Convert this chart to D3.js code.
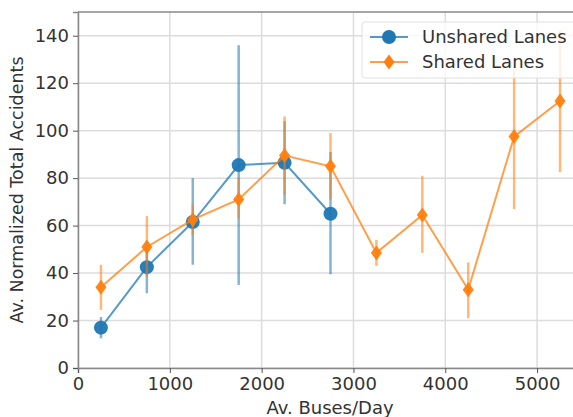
<!DOCTYPE html>
<html>
<head>
<meta charset="utf-8">
<script src="https://cdn.jsdelivr.net/npm/d3@7"></script>
<style>
    body { margin: 0; background: #fff; }
    svg { display: block; font-family: "DejaVu Sans", sans-serif; }
</style>
</head>
<body>
<svg id="chart" width="573" height="417"></svg>
<script>
// bus volume bins (x)
var buses_unshared = [250, 750, 1250, 1750, 2250, 2750];
var buses_shared = [250, 750, 1250, 1750, 2250, 2750, 3250, 3750, 4250, 4750, 5250];

// mean accidents and error bar ends
var unshared_mean = [17, 42.5, 61.5, 85.5, 86.5, 65];
var unshared_low = [12.5, 31.5, 43.5, 35, 69, 39.5];
var unshared_high = [21.5, 53, 80, 136, 104, 91];

var shared_mean = [34, 51, 62.5, 71, 89.5, 85, 48.5, 64.5, 33, 97.5, 112.5];
var shared_low = [24.5, 38.5, 56, 63, 73, 71, 43, 48.5, 21, 67, 82.5];
var shared_high = [43.5, 64, 69, 80, 106, 99, 54, 81, 44.5, 127, 142.5];

var x_ticks = [0, 1000, 2000, 3000, 4000, 5000];
var y_ticks = [0, 20, 40, 60, 80, 100, 120, 140];

const BLUE = '#1f77b4';
const ORANGE = '#ff7f0e';

var svg = d3.select("#chart");

var p_left = 78, p_right = 583, p_top = 12, p_bottom = 368;

var x = d3.scaleLinear().domain([0, 5500]).range([p_left, p_right]);
var y = d3.scaleLinear().domain([0, 150]).range([p_bottom, p_top]);

// grid
svg.append("g").selectAll("line")
    .data(x_ticks)
    .enter()
    .append("line")
    .attr("x1", d => x(d)).attr("x2", d => x(d))
    .attr("y1", p_top).attr("y2", p_bottom)
    .style("stroke", "#dcdcdc")
    .style("stroke-width", 1.5)
svg.append("g").selectAll("line")
    .data(y_ticks)
    .enter()
    .append("line")
    .attr("x1", p_left).attr("x2", p_right)
    .attr("y1", d => y(d)).attr("y2", d => y(d))
    .style("stroke", "#dcdcdc")
    .style("stroke-width", 1.5)

// axes
svg.append("g")
    .attr("transform", "translate(0," + p_bottom + ")")
    .call(d3.axisBottom(x).tickValues(x_ticks).tickSize(5).tickPadding(4).tickFormat(d3.format("d")))
svg.append("g")
    .attr("transform", "translate(" + p_left + ",0)")
    .call(d3.axisLeft(y).tickValues(y_ticks).tickSize(5).tickPadding(4).tickFormat(d3.format("d")))

svg.selectAll(".tick text")
    .style("font-size", "18px")
    .style("fill", "#333")
    .style("font-family", "DejaVu Sans")
svg.selectAll(".tick line").style("stroke", "#555")
svg.selectAll(".domain").style("stroke", "#888").style("stroke-width", 1.5)

// top spine
svg.append("line")
    .attr("x1", p_left).attr("x2", p_right)
    .attr("y1", p_top).attr("y2", p_top)
    .style("stroke", "#888")
    .style("stroke-width", 1.5)

svg.append("text")
    .attr("x", 330)
    .attr("y", 414)
    .attr("text-anchor", "middle")
    .style("font-size", "18px")
    .style("fill", "#333")
    .text("Av. Buses/Day")

svg.append("text")
    .attr("transform", "translate(23," + (p_top + p_bottom) / 2 + ") rotate(-90)")
    .attr("text-anchor", "middle")
    .style("font-size", "17.5px")
    .style("fill", "#333")
    .text("Av. Normalized Total Accidents")

function drawSeries(xs, mean, low, high, color, shape) {
    var g = svg.append("g");
    var pts = xs.map(function (d, i) { return [d, mean[i], low[i], high[i]]; });

    g.selectAll("line.err")
        .data(pts)
        .enter()
        .append("line")
        .attr("class", "err")
        .attr("x1", d => x(d[0])).attr("x2", d => x(d[0]))
        .attr("y1", d => y(d[2])).attr("y2", d => y(d[3]))
        .style("stroke", color)
        .style("stroke-width", 2.5)
        .style("opacity", 0.55)

    var line = d3.line().x(d => x(d[0])).y(d => y(d[1]));
    g.append("path")
        .datum(pts)
        .attr("d", line)
        .style("fill", "none")
        .style("stroke", color)
        .style("stroke-width", 2)
        .style("opacity", 0.75)

    g.selectAll("path.mk")
        .data(pts)
        .enter()
        .append("path")
        .attr("class", "mk")
        .attr("d", shape)
        .attr("transform", d => "translate(" + x(d[0]) + "," + y(d[1]) + ")")
        .style("fill", color)
        .style("opacity", 0.95)
}

var circle = "M-7,0a7,7 0 1,0 14,0a7,7 0 1,0 -14,0Z";
var diamond = "M0,-7.5L5.5,0L0,7.5L-5.5,0Z";

drawSeries(buses_unshared, unshared_mean, unshared_low, unshared_high, BLUE, circle);
drawSeries(buses_shared, shared_mean, shared_low, shared_high, ORANGE, diamond);

// legend
var legend = svg.append("g");
legend.append("rect")
    .attr("x", 362).attr("y", 22)
    .attr("width", 230).attr("height", 56)
    .attr("rx", 3)
    .style("fill", "#fff")
    .style("fill-opacity", 0.8)
    .style("stroke", "#e0e0e0")

var keys = ["Unshared Lanes", "Shared Lanes"];
var colors = [BLUE, ORANGE];
var shapes = [circle, diamond];
for (let i = 0; i < keys.length; i++) {
    var ly = 37 + i * 25;
    legend.append("line")
        .attr("x1", 370).attr("x2", 408)
        .attr("y1", ly).attr("y2", ly)
        .style("stroke", colors[i])
        .style("stroke-width", 2)
        .style("opacity", 0.75)
    legend.append("path")
        .attr("d", shapes[i])
        .attr("transform", "translate(389," + ly + ")")
        .style("fill", colors[i])
    legend.append("text")
        .attr("x", 422)
        .attr("y", ly)
        .attr("dy", "0.35em")
        .style("font-size", "18px")
        .style("fill", "#333")
        .text(keys[i])
}
</script>
</body>
</html>
